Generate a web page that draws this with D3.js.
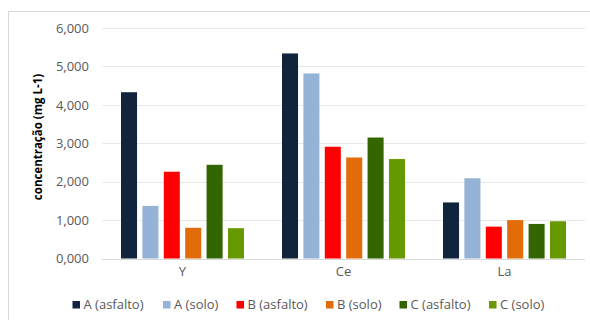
<!DOCTYPE html>
<html><head><meta charset="utf-8">
<script src="https://cdn.jsdelivr.net/npm/d3@7"></script>
<style>body{margin:0;background:#fff;}svg{display:block;}text{font-family:"Open Sans",sans-serif;}</style>
</head><body>
<svg id="c" width="590" height="320"></svg>
<script>
const categories = ["Y", "Ce", "La"];
const seriesNames = ["A (asfalto)", "A (solo)", "B (asfalto)", "B (solo)", "C (asfalto)", "C (solo)"];
const seriesColors = ["#10243E", "#95B3D7", "#FF0000", "#E36C0A", "#336600", "#669900"];
const aAsfalto = [4.33, 5.34, 1.46];
const aSolo = [1.37, 4.82, 2.09];
const bAsfalto = [2.26, 2.91, 0.83];
const bSolo = [0.80, 2.63, 1.00];
const cAsfalto = [2.44, 3.15, 0.90];
const cSolo = [0.79, 2.59, 0.97];
const yTicks = [0, 1, 2, 3, 4, 5, 6];
const yTitle = "concentração (mg L-1)";

const seriesValues = [aAsfalto, aSolo, bAsfalto, bSolo, cAsfalto, cSolo];
const svg = d3.select("#c");

// chart border
svg.append("rect").attr("x", 8.5).attr("y", 11.5).attr("width", 600).attr("height", 320)
  .attr("fill", "none").attr("stroke", "#D9D9D9");

const x0 = d3.scaleBand().domain(categories).range([102, 585]).padding(0);
const bw = x0.bandwidth();
const x1 = d3.scaleBand().domain(seriesNames).range([19, bw - 19]).paddingInner(0.25).paddingOuter(0);
const y = d3.scaleLinear().domain([0, 6]).range([258.5, 28.1]);

const fmtTick = v => d3.format(",.3f")(v).replace(".", ",");

// gridlines
const grid = svg.append("g");
grid.selectAll("line").data(yTicks).join("line")
  .attr("x1", 102).attr("x2", 585)
  .attr("y1", d => Math.round(y(d)) + 0.5).attr("y2", d => Math.round(y(d)) + 0.5)
  .attr("stroke", d => d === 0 ? "#D9D9D9" : "#E8E8E8").attr("stroke-width", 1);

// y axis labels
const yAxis = d3.axisLeft(y).tickValues(yTicks).tickSize(0).tickPadding(0)
  .tickFormat(d => fmtTick(d));
const ya = svg.append("g").attr("transform", "translate(89,0)").call(yAxis);
ya.select(".domain").remove();
ya.selectAll("text").attr("fill", "#595959").style("font-size", "13px").style("font-family", "'Open Sans',sans-serif");

// bars
const groups = svg.append("g").selectAll("g").data(categories).join("g")
  .attr("transform", d => `translate(${x0(d)},0)`);
groups.selectAll("rect").data((c, ci) => seriesNames.map((s, si) => ({s, si, v: seriesValues[si][ci]})))
  .join("rect")
  .attr("x", d => x1(d.s))
  .attr("width", x1.bandwidth())
  .attr("y", d => y(d.v))
  .attr("height", d => y(0) - y(d.v))
  .attr("fill", d => seriesColors[d.si]);

// x axis labels
const xAxis = d3.axisBottom(x0).tickSize(0).tickPadding(0);
const xa = svg.append("g").attr("transform", "translate(0,267)").call(xAxis);
xa.select(".domain").remove();
xa.selectAll("text").attr("fill", "#595959").style("font-size", "13px").style("font-family", "'Open Sans',sans-serif");

// y title
svg.append("text").attr("transform", "translate(42,137) rotate(-90)")
  .attr("text-anchor", "middle").attr("font-weight", "bold").attr("font-size", "11.5px")
  .attr("fill", "#000").text(yTitle);

// legend
const legX = [72.5, 163, 236.5, 326, 399.5, 489];
const leg = svg.append("g").selectAll("g").data(seriesNames).join("g")
  .attr("transform", (d, i) => `translate(${legX[i]},301)`);
leg.append("rect").attr("width", 7.5).attr("height", 7.5).attr("fill", (d, i) => seriesColors[i]);
leg.append("text").attr("x", 11).attr("y", 3.8).attr("dy", "0.35em")
  .attr("fill", "#595959").attr("font-size", "13px").text(d => d);
</script>
</body></html>
